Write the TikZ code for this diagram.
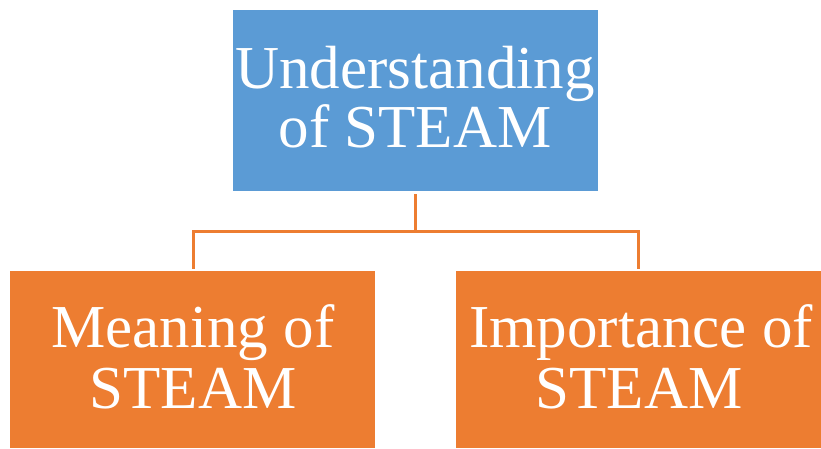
\documentclass[tikz,border=0pt]{standalone}
\usepackage{fontspec}
\setmainfont{Liberation Serif}
\definecolor{topblue}{HTML}{5B9BD5}
\definecolor{boxorange}{HTML}{ED7D31}
\begin{document}
\begin{tikzpicture}[x=1pt,y=-1pt,
  box/.style={rectangle,inner sep=0pt,minimum width=365pt,draw=none},
  label/.style={anchor=base,text=white,inner sep=0pt,font=\fontsize{61}{60}\selectfont},
  link/.style={draw=boxorange,line width=3pt}]
\useasboundingbox (0,0) rectangle (821,448);
\fill[white] (0,0) rectangle (821,448);
\node[box,fill=topblue,minimum height=181pt] (top) at (415,100.5) {};
\node[box,fill=boxorange,minimum height=177pt] (left) at (192.5,359.5) {};
\node[box,fill=boxorange,minimum height=177pt] (right) at (638.5,359.5) {};
\node[label] (t1) at (415,88) {Understanding};
\node[label] (t2) at (415,147) {of STEAM};
\node[label] (l1) at (193,347) {Meaning of};
\node[label] (l2) at (193,408) {STEAM};
\node[label] (r1) at (641,347) {Importance of};
\node[label] (r2) at (639,408) {STEAM};
\coordinate (mid) at (415,231);
\draw[link] ([yshift=-3pt]top.south) -- (mid);
\draw[link] (mid) -| ([yshift=2pt]left.north -| 193,0);
\draw[link] (mid) -| ([yshift=2pt]right.north);
\end{tikzpicture}
\end{document}
